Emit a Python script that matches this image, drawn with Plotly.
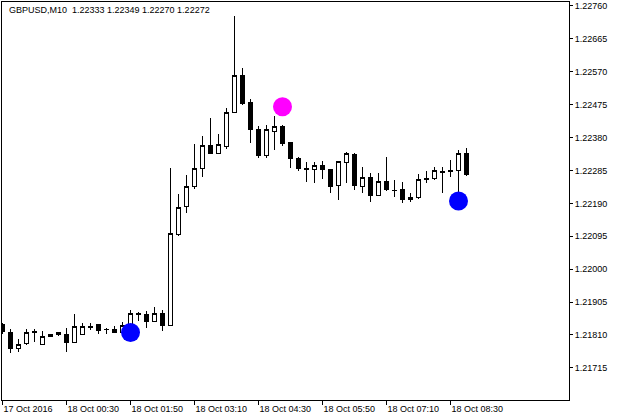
import plotly.graph_objects as go

open_ = [1.21839, 1.21818, 1.21772, 1.21786, 1.21819, 1.21783, 1.21810, 1.21810, 1.21810, 1.21789,
         1.21810, 1.21832, 1.21841, 1.21827, 1.21825, 1.21818, 1.21837, 1.21868, 1.21870, 1.21848,
         1.21873, 1.21838, 1.22099, 1.22180, 1.22238, 1.22290, 1.22356, 1.22334, 1.22354, 1.22453,
         1.22560, 1.22482, 1.22402, 1.22328, 1.22398, 1.22413, 1.22365, 1.22320, 1.22291, 1.22288,
         1.22298, 1.22289, 1.22242, 1.22309, 1.22330, 1.22238, 1.22265, 1.22212, 1.22254, 1.22228,
         1.22229, 1.22200, 1.22208, 1.22258, 1.22262, 1.22280, 1.22282, 1.22284, 1.22333]
high = [1.21845, 1.21826, 1.21798, 1.21826, 1.21826, 1.21822, 1.21811, 1.21819, 1.21829, 1.21870,
        1.21844, 1.21844, 1.21843, 1.21829, 1.21836, 1.21848, 1.21882, 1.21876, 1.21879, 1.21892,
        1.21881, 1.22291, 1.22217, 1.22272, 1.22362, 1.22385, 1.22437, 1.22390, 1.22465, 1.22731,
        1.22580, 1.22491, 1.22413, 1.22416, 1.22442, 1.22415, 1.22366, 1.22325, 1.22310, 1.22310,
        1.22313, 1.22290, 1.22312, 1.22339, 1.22335, 1.22296, 1.22277, 1.22279, 1.22325, 1.22258,
        1.22252, 1.22219, 1.22275, 1.22284, 1.22296, 1.22296, 1.22315, 1.22344, 1.22349]
low = [1.21813, 1.21757, 1.21760, 1.21781, 1.21791, 1.21782, 1.21805, 1.21808, 1.21760, 1.21788,
       1.21809, 1.21824, 1.21812, 1.21812, 1.21815, 1.21817, 1.21836, 1.21850, 1.21831, 1.21847,
       1.21822, 1.21837, 1.22096, 1.22163, 1.22232, 1.22267, 1.22332, 1.22333, 1.22348, 1.22452,
       1.22474, 1.22364, 1.22322, 1.22322, 1.22344, 1.22356, 1.22292, 1.22284, 1.22253, 1.22250,
       1.22260, 1.22221, 1.22200, 1.22248, 1.22229, 1.22219, 1.22195, 1.22211, 1.22227, 1.22208,
       1.22192, 1.22195, 1.22202, 1.22250, 1.22258, 1.22219, 1.22267, 1.22219, 1.22270]
close = [1.21819, 1.21772, 1.21783, 1.21818, 1.21816, 1.21806, 1.21806, 1.21816, 1.21789, 1.21834,
         1.21834, 1.21834, 1.21824, 1.21826, 1.21818, 1.21837, 1.21873, 1.21871, 1.21850, 1.21873,
         1.21838, 1.22102, 1.22179, 1.22240, 1.22291, 1.22356, 1.22333, 1.22359, 1.22453, 1.22560,
         1.22477, 1.22404, 1.22328, 1.22402, 1.22413, 1.22364, 1.22319, 1.22291, 1.22288, 1.22298,
         1.22288, 1.22238, 1.22310, 1.22333, 1.22242, 1.22265, 1.22212, 1.22254, 1.22229, 1.22226,
         1.22202, 1.22208, 1.22260, 1.22262, 1.22284, 1.22282, 1.22284, 1.22335, 1.22272]

buy_idx = [16, 57]
buy_price = [1.21817, 1.22197]
sell_idx = [35]
sell_price = [1.22469]

x_tick_idx = [0, 8, 16, 24, 32, 40, 48, 56]
x_tick_labels = ["17 Oct 2016", "18 Oct 00:30", "18 Oct 01:50", "18 Oct 03:10",
                 "18 Oct 04:30", "18 Oct 05:50", "18 Oct 07:10", "18 Oct 08:30"]
y_ticks = [1.21715, 1.21810, 1.21905, 1.22000, 1.22095, 1.22190, 1.22285,
           1.22380, 1.22475, 1.22570, 1.22665, 1.22760]
header = "GBPUSD,M10  1.22333 1.22349 1.22270 1.22272"

idx = list(range(len(open_)))
FONT = "Liberation Sans"

fig = go.Figure()
fig.add_trace(go.Candlestick(
    x=idx, open=open_, high=high, low=low, close=close,
    increasing=dict(line=dict(color="black", width=1), fillcolor="white"),
    decreasing=dict(line=dict(color="black", width=1), fillcolor="black"),
    whiskerwidth=0, hoverinfo="skip", showlegend=False,
))
fig.add_trace(go.Scatter(x=buy_idx, y=buy_price, mode="markers",
                         marker=dict(size=19, color="#0000FF", line=dict(width=0)),
                         showlegend=False, hoverinfo="skip"))
fig.add_trace(go.Scatter(x=sell_idx, y=sell_price, mode="markers",
                         marker=dict(size=19, color="#FF00FF", line=dict(width=0)),
                         showlegend=False, hoverinfo="skip"))

fig.update_layout(
    width=621, height=420,
    margin=dict(l=2, r=52, t=2, b=20),
    paper_bgcolor="white", plot_bgcolor="white",
    boxgap=0.4,
    font=dict(family=FONT, size=9, color="black"),
    xaxis=dict(
        range=[-0.0625, 70.8125], rangeslider=dict(visible=False),
        showgrid=False, zeroline=False,
        showline=True, mirror=True, linecolor="black", linewidth=1,
        tickmode="array", tickvals=x_tick_idx, ticktext=x_tick_labels,
        ticks="outside", ticklen=4, tickcolor="black", tickwidth=1,
        ticklabelposition="outside right",
        tickfont=dict(family=FONT, size=9, color="black"),
    ),
    yaxis=dict(
        side="right", range=[1.216223, 1.227715],
        showgrid=False, zeroline=False,
        showline=True, mirror=True, linecolor="black", linewidth=1,
        tickmode="array", tickvals=y_ticks, ticktext=[f"{v:.5f}" for v in y_ticks],
        ticks="outside", ticklen=3, tickcolor="black", tickwidth=1,
        tickfont=dict(family=FONT, size=9, color="black"),
    ),
    annotations=[dict(
        text=header, xref="paper", yref="paper", x=0.0088, y=1,
        xanchor="left", yanchor="top", yshift=-1, showarrow=False,
        font=dict(family=FONT, size=9, color="black"),
    )],
)

fig.write_html(
    "out.html", config={"displayModeBar": False},
    post_script=(
        "document.body.style.margin='0';document.body.style.padding='0';"
        "var s=document.createElement('style');"
        "s.textContent='.boxlayer path{shape-rendering:crispEdges}';"
        "document.head.appendChild(s);"
    ),
)
